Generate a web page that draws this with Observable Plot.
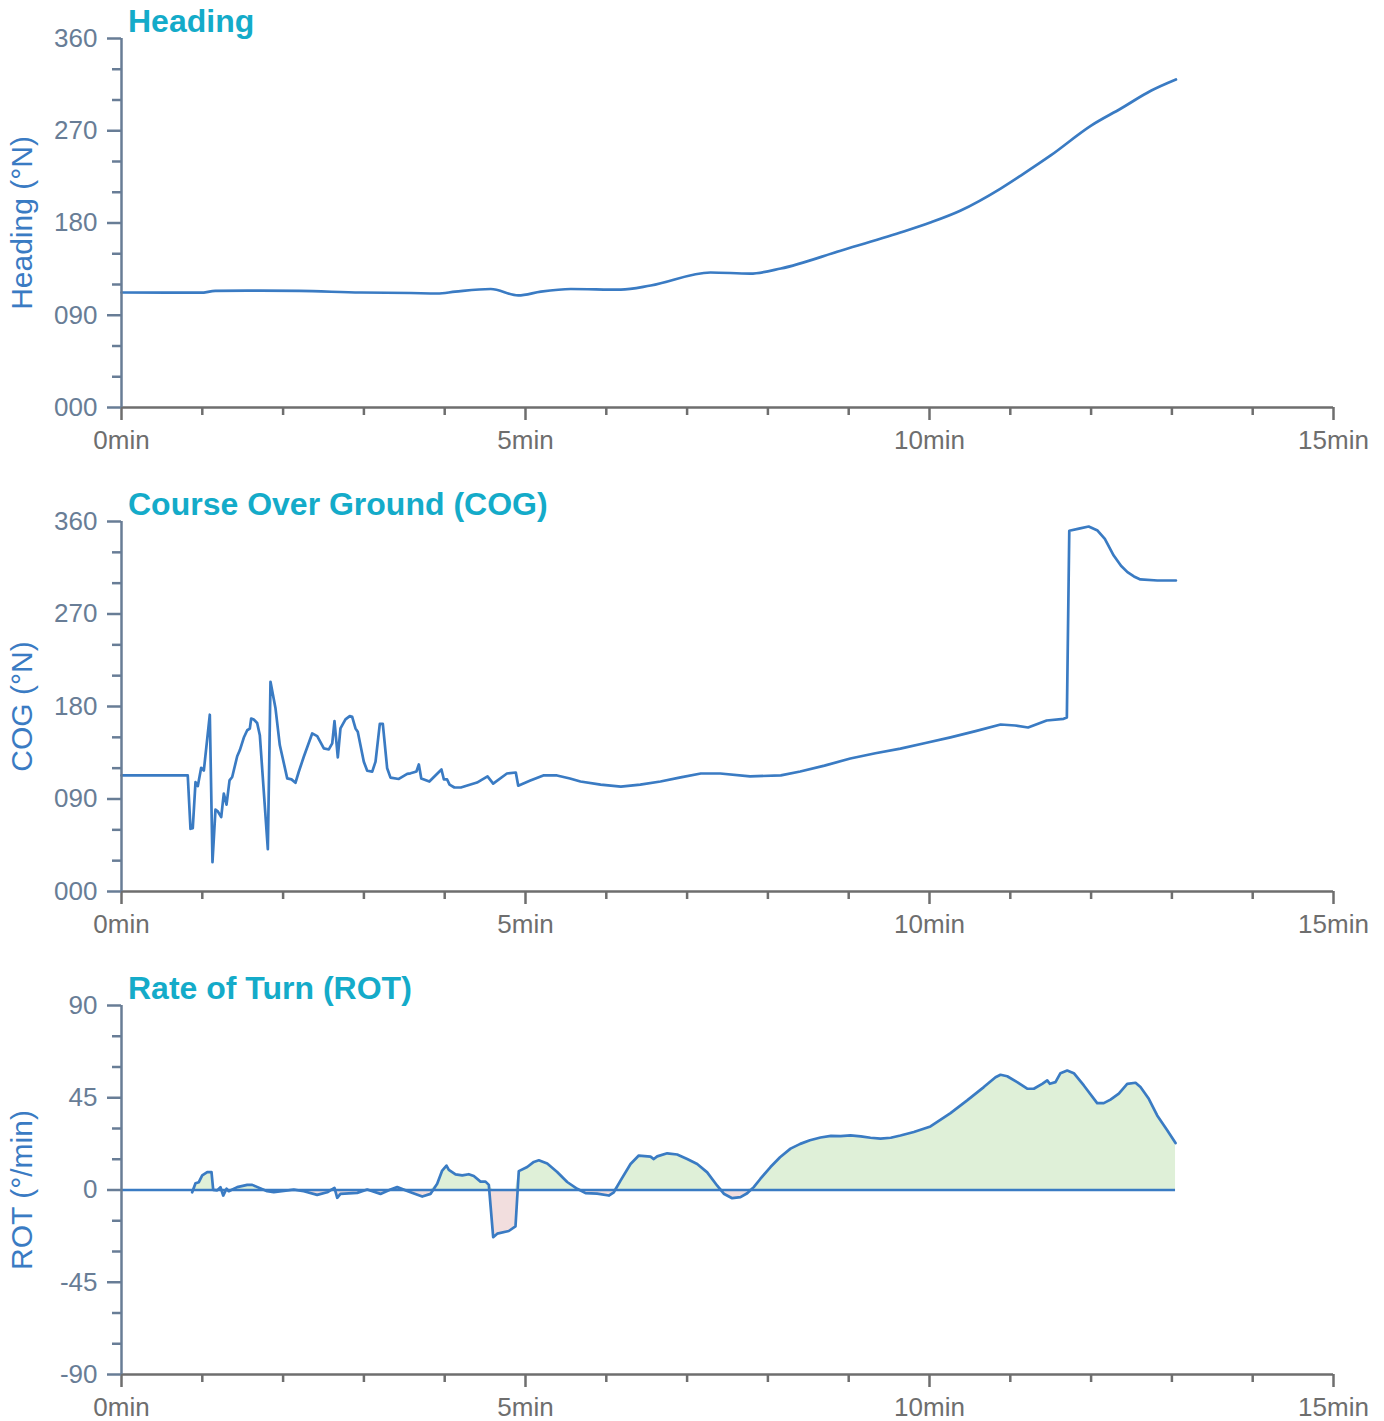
<!DOCTYPE html>
<html><head><meta charset="utf-8">
<script src="https://cdn.jsdelivr.net/npm/d3@7"></script>
<script src="https://cdn.jsdelivr.net/npm/@observablehq/plot@0.6"></script>
<style>
body{margin:0;background:#fff;font-family:"Liberation Sans",Arial,sans-serif;}
.panel{position:relative;width:1384px;}
.panel svg{display:block;}
.title{position:absolute;left:128px;top:5px;font-size:32px;font-weight:bold;color:#14abc9;line-height:32px;white-space:nowrap;}
</style></head><body><div id="root"></div>
<script>
// ---- Data (time in minutes) ----
const headingTime = [0,0.98,1.16,1.72,2.2,2.96,3.58,3.91,4.13,4.57,4.91,5.19,5.56,6.18,6.55,7.29,7.78,8.16,8.9,9.64,10.01,10.38,10.88,11.13,11.5,12.0,12.37,12.74,13.05];
const headingDeg  = [112.2,112,113.7,114,113.7,112.2,111.7,111.2,113,115.6,109.3,113,115.6,115,119,131.7,130.7,135.6,153,170.7,180.5,192,213.6,226.3,245.9,275,291.7,309,320];

const cogTime = [0,0.82,0.854,0.882,0.916,0.944,0.986,1.019,1.093,1.126,1.163,1.192,1.234,1.266,1.300,1.337,1.370,1.432,1.464,1.514,1.556,1.588,1.605,1.637,1.679,1.712,1.811,1.844,1.906,1.959,2.051,2.104,2.153,2.194,2.256,2.360,2.422,2.504,2.566,2.608,2.636,2.677,2.710,2.772,2.825,2.855,2.896,2.924,2.999,3.041,3.103,3.144,3.197,3.234,3.288,3.329,3.432,3.536,3.577,3.61,3.65,3.68,3.71,3.81,3.96,3.99,4.03,4.06,4.12,4.20,4.40,4.53,4.60,4.77,4.88,4.91,5.06,5.22,5.39,5.55,5.68,5.93,6.18,6.42,6.67,6.92,7.17,7.41,7.78,8.16,8.4,8.7,9.02,9.33,9.64,9.95,10.26,10.57,10.88,11.06,11.22,11.45,11.66,11.70,11.73,11.85,11.97,12.08,12.17,12.28,12.37,12.45,12.53,12.61,12.82,13.05];
const cogDeg  = [112.9,112.9,61.0,61.6,106.4,102.5,120.4,117.7,172,28.6,79.6,78.0,72.4,95.2,84.5,108.2,111.4,131.6,137.4,149.8,156.9,158.5,168.3,167.3,164.0,152.1,41.2,204.1,178.2,142.5,110.1,109.1,105.8,116.5,131.1,153.8,151.2,139.2,138.2,144.1,165.8,130.5,158.7,167.5,170.7,170.0,158.7,155.5,126.3,117.5,116.6,126.3,163.0,163.0,119.9,110.8,109.5,114.4,115.0,115.8,116.8,123.6,110,107,118.7,109,109,104,101.2,101.2,106,112,105,114.8,115.8,103,107.9,112.9,112.9,110,107,104,102,104,107,111,114.8,114.8,112,113,116.8,122.5,129.4,134.5,139,144.5,150,156,162.5,161.5,159.6,166.4,168,169.3,351,353,355.1,351.2,343,326.9,317,310.7,306.5,303.6,302.6,302.6];

const rotTime = [0.875,0.916,0.957,0.999,1.061,1.114,1.135,1.184,1.225,1.259,1.300,1.328,1.432,1.556,1.618,1.803,1.885,2.132,2.256,2.422,2.546,2.636,2.670,2.710,2.917,3.041,3.205,3.329,3.412,3.577,3.722,3.824,3.907,3.969,4.022,4.051,4.134,4.217,4.298,4.360,4.443,4.505,4.546,4.600,4.650,4.793,4.876,4.917,5.021,5.103,5.165,5.269,5.392,5.516,5.640,5.743,5.887,6.031,6.093,6.176,6.300,6.402,6.547,6.588,6.630,6.754,6.877,7.001,7.125,7.249,7.373,7.454,7.558,7.661,7.744,7.825,7.908,8.032,8.15,8.280,8.40,8.52,8.651,8.78,8.90,9.022,9.15,9.27,9.394,9.52,9.641,9.806,10.012,10.260,10.466,10.672,10.817,10.879,10.962,11.085,11.209,11.291,11.395,11.457,11.489,11.559,11.621,11.704,11.786,11.910,12.075,12.157,12.240,12.343,12.447,12.550,12.611,12.714,12.818,12.942,13.045];
const rotRate = [-1.1,3.3,3.8,7.1,8.7,8.7,0.1,-0.2,1.4,-2.7,0.6,-0.6,1.4,2.5,2.5,-0.6,-1.1,0.2,-0.6,-2.4,-1.1,1.0,-3.8,-1.9,-1.4,0.2,-1.9,0.2,1.4,-1.1,-3.2,-1.9,3.0,9.5,11.9,9.8,7.6,7.1,7.7,6.8,4.1,4.1,2.5,-23.0,-21.3,-20.0,-17.8,9.2,11.2,13.7,14.5,12.9,8.8,3.9,0.6,-1.5,-1.8,-2.7,-1.1,4.6,12.7,16.8,16.3,15.1,16.4,17.9,17.3,15.1,12.7,8.6,2.1,-1.8,-4.0,-3.5,-1.6,1.4,5.5,11.2,16.0,20.2,22.5,24.3,25.6,26.4,26.3,26.6,26.2,25.5,25.1,25.5,26.6,28.3,31.0,37.5,43.7,50.2,55.0,56.2,55.5,52.6,49.4,49.4,51.8,53.5,51.8,52.6,57.0,58.3,57.0,51.0,42.4,42.4,44.1,47.0,51.8,52.3,50.2,44.5,36.4,29.1,22.9];

const xMajorTicks = [0,5,10,15];
const xMinorTicks = [1,2,3,4,6,7,8,9,11,12,13,14];
const degMajorTicks = [0,90,180,270,360];
const degMinorTicks = [30,60,120,150,210,240,300,330];
const rotMajorTicks = [-90,-45,0,45,90];
const rotMinorTicks = [-75,-60,-30,-15,15,30,60,75];

// ---- Styling ----
const LINE = "#3a7bc3";
const SLATE = "#687d96";
const GRAY = "#6e6e6e";
const LABEL = "#3a7bc3";
const FONT = '"Liberation Sans", Arial, sans-serif';

const heading = headingTime.map((t,i)=>({t, v: headingDeg[i]}));
const cog = cogTime.map((t,i)=>({t, v: cogDeg[i]}));
const rot = rotTime.map((t,i)=>({t, v: rotRate[i]}));
const tEnd = rotTime[rotTime.length-1];

function frameMarks(yBottom, yMajor, yMinor, yFmt, yLabel){
  return [
    Plot.ruleY([yBottom], {stroke: GRAY, strokeWidth: 2.5}),
    Plot.axisX(xMajorTicks, {tickSize: 13, tickPadding: 10, stroke: GRAY, fill: GRAY, strokeWidth: 2.5, fontSize: 26, fontFamily: FONT, tickFormat: d => d + "min", label: null}),
    Plot.axisX(xMinorTicks, {tickSize: 8, stroke: GRAY, fill: "none", strokeWidth: 2.5, label: null}),
    Plot.ruleX([0], {stroke: SLATE, strokeWidth: 2.5}),
    Plot.axisY(yMajor, {tickSize: 14, tickPadding: 10, stroke: SLATE, fill: SLATE, strokeWidth: 2.5, fontSize: 26, fontFamily: FONT, tickFormat: yFmt, label: null}),
    Plot.axisY(yMinor, {tickSize: 9, stroke: SLATE, fill: "none", strokeWidth: 2.5, label: null}),
    Plot.text([yLabel], {frameAnchor: "left", dx: -99, rotate: -90, fill: LABEL, fontSize: 30, fontFamily: FONT, textAnchor: "middle"})
  ];
}

function panel(title, height, marginBottom, yDomain, marks){
  const div = document.createElement("div");
  div.className = "panel";
  div.style.height = height + "px";
  const svg = Plot.plot({
    width: 1384, height,
    marginLeft: 121, marginRight: 51, marginTop: 38, marginBottom,
    style: {fontFamily: FONT, background: "white"},
    x: {domain: [0, 15], label: null},
    y: {domain: yDomain, label: null},
    marks
  });
  div.appendChild(svg);
  const ttl = document.createElement("div");
  ttl.className = "title";
  ttl.textContent = title;
  div.appendChild(ttl);
  document.getElementById("root").appendChild(div);
}

const degFmt = d => String(d).padStart(3, "0");

panel("Heading", 483, 76, [0, 360], [
  Plot.line(heading, {x: "t", y: "v", stroke: LINE, strokeWidth: 2.7, curve: "monotone-x"}),
  ...frameMarks(0, degMajorTicks, degMinorTicks, degFmt, "Heading (°N)")
]);

panel("Course Over Ground (COG)", 484, 76, [0, 360], [
  Plot.line(cog, {x: "t", y: "v", stroke: LINE, strokeWidth: 2.7, strokeLinejoin: "round"}),
  ...frameMarks(0, degMajorTicks, degMinorTicks, degFmt, "COG (°N)")
]);

panel("Rate of Turn (ROT)", 454, 47, [-90, 90], [
  Plot.areaY(rot, {x: "t", y1: 0, y2: d => Math.max(0, d.v), fill: "#dff0d8"}),
  Plot.areaY(rot, {x: "t", y1: 0, y2: d => Math.min(0, d.v), fill: "#f2dede"}),
  Plot.ruleY([0], {x1: 0, x2: tEnd, stroke: LINE, strokeWidth: 2.7}),
  Plot.line(rot, {x: "t", y: "v", stroke: LINE, strokeWidth: 2.7, strokeLinejoin: "round"}),
  ...frameMarks(-90, rotMajorTicks, rotMinorTicks, d => String(d), "ROT (°/min)")
]);
</script>
</body></html>
